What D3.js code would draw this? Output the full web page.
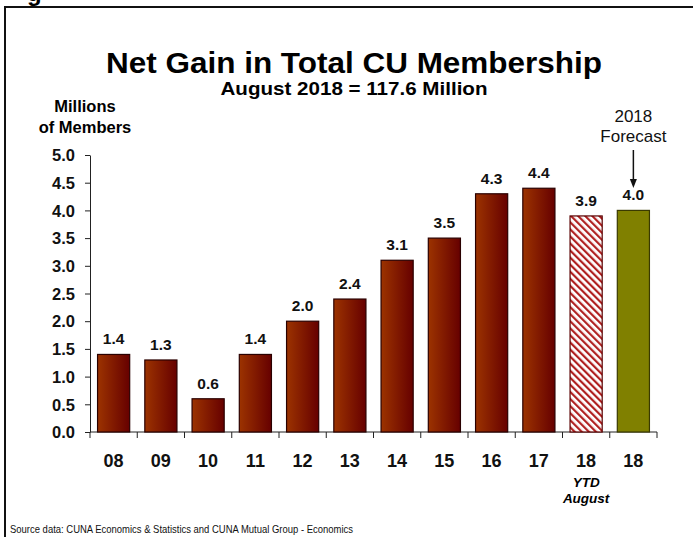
<!DOCTYPE html>
<html>
<head>
<meta charset="utf-8">
<script src="https://cdn.jsdelivr.net/npm/d3@7"></script>
<style>
  html, body { margin: 0; padding: 0; background: #fff; }
  svg { display: block; font-family: Arial, "Liberation Sans", sans-serif; }
</style>
</head>
<body>
<svg id="chart" width="693" height="537"></svg>
<script>
// Net membership gain per year, millions of members
const categories = ["08", "09", "10", "11", "12", "13", "14", "15", "16", "17", "18", "18"];
const values = [1.4, 1.3, 0.6, 1.4, 2.0, 2.4, 3.1, 3.5, 4.3, 4.4, 3.9, 4.0];
const kinds = ["actual", "actual", "actual", "actual", "actual", "actual", "actual", "actual", "actual", "actual", "ytd", "forecast"];
const yTicks = [0, 0.5, 1.0, 1.5, 2.0, 2.5, 3.0, 3.5, 4.0, 4.5, 5.0];
const ytdNote = ["YTD", "August"];
const forecastNote = ["2018", "Forecast"];

const svg = d3.select("#chart");
const defs = svg.append("defs");

// Bar fill: orange-brown fading to dark red
const grad = defs.append("linearGradient").attr("id", "barGrad")
  .attr("x1", "0%").attr("x2", "100%").attr("y1", "0%").attr("y2", "0%");
grad.append("stop").attr("offset", "0%").attr("stop-color", "#9c3300");
grad.append("stop").attr("offset", "100%").attr("stop-color", "#660000");

// Diagonal hatch for the year-to-date bar
const hatch = defs.append("pattern").attr("id", "hatch")
  .attr("patternUnits", "userSpaceOnUse").attr("width", 5).attr("height", 5)
  .attr("patternTransform", "rotate(-45)");
hatch.append("rect").attr("width", 5).attr("height", 5).attr("fill", "#fff");
hatch.append("rect").attr("x", 0).attr("width", 2.2).attr("height", 5).attr("fill", "#b02020");

// Frame, with the tail of the page heading above it
svg.append("text").attr("x", 27).attr("y", 0.5)
  .attr("font-size", 24).attr("font-weight", "bold").text("g");
svg.append("path").attr("d", "M5,537 V7 H693")
  .attr("fill", "none").attr("stroke", "#111").attr("stroke-width", 2);

const plot = { left: 90, right: 657, top: 155, bottom: 432 };

const x = d3.scaleBand().domain(d3.range(categories.length))
  .range([plot.left, plot.right]).paddingInner(0).paddingOuter(0);
const y = d3.scaleLinear().domain([0, 5]).range([plot.bottom, plot.top]);
const barW = x.bandwidth() * 0.68;

// Titles
svg.append("text").attr("x", 354).attr("y", 73).attr("text-anchor", "middle")
  .attr("font-size", 29).attr("font-weight", "bold")
  .attr("textLength", 496).attr("lengthAdjust", "spacingAndGlyphs")
  .text("Net Gain in Total CU Membership");
svg.append("text").attr("x", 354).attr("y", 95).attr("text-anchor", "middle")
  .attr("font-size", 18).attr("font-weight", "bold")
  .attr("textLength", 267).attr("lengthAdjust", "spacingAndGlyphs")
  .text("August 2018 = 117.6 Million");

// Y axis title
const yTitle = svg.append("text").attr("text-anchor", "middle")
  .attr("font-size", 16.5).attr("font-weight", "bold");
yTitle.append("tspan").attr("x", 85).attr("y", 112).text("Millions");
yTitle.append("tspan").attr("x", 85).attr("y", 133).text("of Members");

// Y axis
const yAxis = svg.append("g").attr("transform", `translate(${plot.left},0)`)
  .call(d3.axisLeft(y).tickValues(yTicks).tickFormat(d3.format(".1f")).tickSize(5).tickSizeOuter(0));
yAxis.select(".domain").attr("stroke", "#222");
yAxis.selectAll(".tick line").attr("stroke", "#222");
yAxis.selectAll(".tick text").attr("x", -15).attr("dy", "0.35em")
  .attr("font-size", 16.5).attr("font-weight", "bold").attr("fill", "#111")
  .attr("font-family", "Arial, 'Liberation Sans', sans-serif");

// X axis: ticks sit on the category boundaries
const xAxisG = svg.append("g");
xAxisG.append("line").attr("x1", plot.left).attr("x2", plot.right)
  .attr("y1", plot.bottom).attr("y2", plot.bottom).attr("stroke", "#222");
const bounds = d3.range(categories.length + 1).map(i => i < categories.length ? x(i) : x(i - 1) + x.bandwidth());
xAxisG.selectAll("line.b").data(bounds).join("line").attr("class", "b")
  .attr("x1", d => d).attr("x2", d => d)
  .attr("y1", plot.bottom).attr("y2", plot.bottom + 6).attr("stroke", "#222");
xAxisG.selectAll("text.cat").data(categories).join("text").attr("class", "cat")
  .attr("x", (d, i) => x(i) + x.bandwidth() / 2).attr("y", 467)
  .attr("text-anchor", "middle").attr("font-size", 18).attr("font-weight", "bold")
  .attr("fill", "#111").text(d => d);

// YTD note under the partial-year bar
const ytdIdx = kinds.indexOf("ytd");
svg.append("g").selectAll("text").data(ytdNote).join("text")
  .attr("x", x(ytdIdx) + x.bandwidth() / 2).attr("y", (d, i) => 487 + i * 16)
  .attr("text-anchor", "middle").attr("font-size", 13.5).attr("font-weight", "bold")
  .attr("font-style", "italic").text(d => d);

// Bars
const fillFor = k => k === "ytd" ? "url(#hatch)" : k === "forecast" ? "#808000" : "url(#barGrad)";
const strokeFor = k => k === "ytd" ? "#5a0000" : k === "forecast" ? "#3a3a00" : "#2a0000";
svg.append("g").selectAll("rect").data(values).join("rect")
  .attr("x", (d, i) => x(i) + (x.bandwidth() - barW) / 2)
  .attr("y", d => y(d))
  .attr("width", barW)
  .attr("height", d => y(0) - y(d))
  .attr("fill", (d, i) => fillFor(kinds[i]))
  .attr("stroke", (d, i) => strokeFor(kinds[i]))
  .attr("stroke-width", 1.2);

// Value labels
svg.append("g").selectAll("text").data(values).join("text")
  .attr("x", (d, i) => x(i) + x.bandwidth() / 2)
  .attr("y", d => y(d) - 10)
  .attr("text-anchor", "middle").attr("font-size", 15.5).attr("font-weight", "bold")
  .attr("fill", "#111").text(d => d3.format(".1f")(d));

// Forecast callout with arrow
const fIdx = kinds.indexOf("forecast");
const fx = x(fIdx) + x.bandwidth() / 2;
svg.append("g").selectAll("text").data(forecastNote).join("text")
  .attr("x", fx).attr("y", (d, i) => 122 + i * 20)
  .attr("text-anchor", "middle").attr("font-size", 17).attr("fill", "#111").text(d => d);
svg.append("line").attr("x1", fx).attr("x2", fx).attr("y1", 150).attr("y2", 180)
  .attr("stroke", "#111").attr("stroke-width", 1.5);
svg.append("path").attr("d", `M${fx - 3.5},179 L${fx + 3.5},179 L${fx},188 Z`).attr("fill", "#111");

// Source note
svg.append("text").attr("x", 10).attr("y", 533).attr("font-size", 11)
  .attr("textLength", 343).attr("lengthAdjust", "spacingAndGlyphs")
  .attr("fill", "#111").text("Source data: CUNA Economics & Statistics and CUNA Mutual Group - Economics");
</script>
</body>
</html>
